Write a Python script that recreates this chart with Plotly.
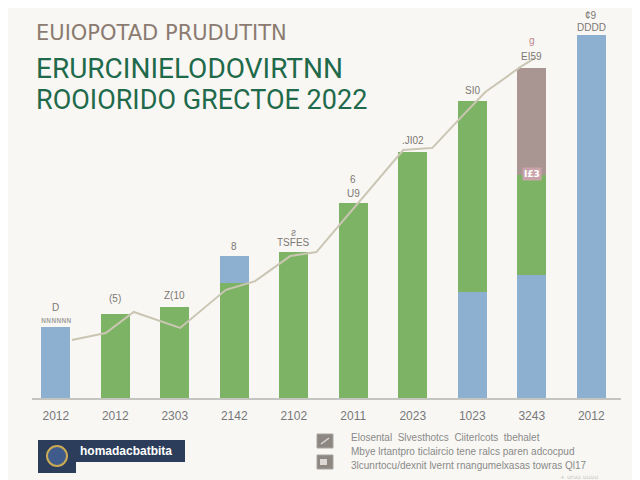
import plotly.graph_objects as go

# ---- data ----
categories = ["2012", "2012", "2303", "2142", "2102", "2011", "2023", "1023", "3243", "2012"]
blue_base = [19.6, 0, 0, 0, 0, 0, 0, 29.2, 33.9, 100]
green = [0, 23.1, 25.1, 31.7, 40.2, 53.7, 67.8, 52.6, 27.5, 0]
blue_top = [0, 0, 0, 7.4, 0, 0, 0, 0, 0, 0]
brown = [0, 0, 0, 0, 0, 0, 0, 0, 29.5, 0]

line_x = [0.27, 0.84, 1.31, 2.09, 2.86, 3.35, 3.94, 4.38, 5.84, 6.33, 6.85, 7.22, 7.81, 8.06]
line_y = [16.0, 17.9, 23.7, 19.3, 29.8, 32.2, 39.1, 40.2, 68.3, 68.9, 78.0, 84.3, 91.2, 93.7]

bar_labels = ["D", "(5)", "Z(10", "8", "TSFES", "U9", ".JI02", "SI0", "EI59", "DDDD"]
upper_labels = {4: "ƨ", 5: "6", 8: "g", 9: "¢9"}

title_lines = ["EUIOPOTAD PRUDUTITN", "ERURCINIELODOVIRTNN", "ROOIORIDO GRECTOE 2022"]
legend_lines = [
    "Elosental  Slvesthotcs  Ciiterlcots  tbehalet",
    "Mbye lrtantpro ticlaircio tene ralcs paren adcocpud",
    "3lcunrtocu/dexnit lvernt rnangumelxasas towras Ql17",
]
badge_text = "homadacbatbita"

BLUE = "#8dafd0"
GREEN = "#7db365"
BROWN = "#a99591"
BG = "#f8f7f4"

# page body has an 8px margin: size the figure so it fits the window
OFF = 8
W, H = 640 - OFF, 480 - OFF
L, R, T, B = 24, 19, 27, 82

x = list(range(len(categories)))
fig = go.Figure()
for vals, col in [(blue_base, BLUE), (green, GREEN), (blue_top, BLUE), (brown, BROWN)]:
    fig.add_trace(go.Bar(x=x, y=vals, marker=dict(color=col, line=dict(width=0)),
                         width=0.49, showlegend=False, hoverinfo="skip"))

fig.add_trace(go.Scatter(x=line_x, y=line_y, mode="lines",
                         line=dict(color="#cbc6b3", width=2), showlegend=False, hoverinfo="skip"))

totals = [a + b + c + d for a, b, c, d in zip(blue_base, green, blue_top, brown)]
shifts = [19, 16, 11, 10, 10, 10, 11, 11, 12, 8]


def px(xp):
    return (xp - OFF - L) / (W - L - R)


def py(yp):
    return (H - B - (yp - OFF)) / (H - T - B)


ann = []
for i, (t, tot, s) in enumerate(zip(bar_labels, totals, shifts)):
    ann.append(dict(x=i, y=tot, text=t, showarrow=False, yshift=s, yanchor="middle",
                    font=dict(family="Liberation Sans, DejaVu Sans", size=10, color="#7d7873")))
for i, t in upper_labels.items():
    extra = {4: 20, 5: 24, 8: 28, 9: 20}[i]
    col = "#c0868a" if i == 8 else "#7d7873"
    ann.append(dict(x=i, y=totals[i], text=t, showarrow=False, yshift=extra, yanchor="middle",
                    font=dict(family="Liberation Sans, DejaVu Sans", size=10, color=col)))
ann.append(dict(x=0, y=totals[0], text="ɴɴɴɴɴɴ", showarrow=False, yshift=6,
                font=dict(family="DejaVu Sans", size=8, color="#9a9a96")))
ann.append(dict(x=8, y=blue_base[8] + green[8], text="<b>I£3</b>", showarrow=False, yshift=1,
                bgcolor="#c9a3aa", font=dict(family="DejaVu Sans", size=9, color="#ffffff")))

title_fmt = [(33, 21, "#8b7b70", "DejaVu Sans"), (68, 28, "#1f6a4b", "Roboto"),
             (100, 27, "#1f6a4b", "Roboto")]
for t, (yy, sz, col, fam) in zip(title_lines, title_fmt):
    ann.append(dict(xref="paper", yref="paper", x=px(34), y=py(yy), text=t, showarrow=False,
                    xanchor="left", yanchor="middle",
                    font=dict(family=fam, size=sz, color=col)))

for t, yy in zip(legend_lines, [437, 451, 465]):
    ann.append(dict(xref="paper", yref="paper", x=px(349), y=py(yy), text=t, showarrow=False,
                    xanchor="left", yanchor="middle",
                    font=dict(family="Liberation Sans", size=10, color="#8a8a88")))

ann.append(dict(xref="paper", yref="paper", x=px(78), y=py(451), text="<b>" + badge_text + "</b>",
                showarrow=False, xanchor="left", yanchor="middle",
                font=dict(family="Liberation Sans", size=12, color="#ffffff")))
ann.append(dict(xref="paper", yref="paper", x=px(600), y=py(476), text="+ uruu uuuu",
                showarrow=False, xanchor="right", yanchor="middle",
                font=dict(family="DejaVu Sans", size=6, color="#c8c8c4")))

shapes = [
    dict(type="rect", xref="paper", yref="paper", x0=px(38), x1=px(185), y0=py(462), y1=py(440),
         fillcolor="#2b3d5b", line=dict(width=0), layer="above"),
    dict(type="rect", xref="paper", yref="paper", x0=px(38), x1=px(76), y0=py(473), y1=py(440),
         fillcolor="#2b3d5b", line=dict(width=0), layer="above"),
    dict(type="circle", xref="paper", yref="paper", x0=px(47), x1=px(67), y0=py(466), y1=py(446),
         fillcolor="#3f5b8c", line=dict(color="#c9aa55", width=2), layer="above"),
    dict(type="rect", xref="paper", yref="paper", x0=px(317), x1=px(333), y0=py(448), y1=py(434),
         fillcolor="#8d8782", line=dict(color="#a9a49f", width=1), layer="above"),
    dict(type="rect", xref="paper", yref="paper", x0=px(317), x1=px(333), y0=py(469), y1=py(455),
         fillcolor="#8d8782", line=dict(color="#a9a49f", width=1), layer="above"),
    dict(type="line", xref="paper", yref="paper", x0=px(321), x1=px(329), y0=py(444), y1=py(438),
         line=dict(color="#dcd8d4", width=1.5), layer="above"),
    dict(type="rect", xref="paper", yref="paper", x0=px(320), x1=px(327), y0=py(465), y1=py(459),
         fillcolor="#dcd8d4", line=dict(width=0), layer="above"),
]

fig.update_layout(
    width=W, height=H, margin=dict(l=L, r=R, t=T, b=B),
    paper_bgcolor=BG, plot_bgcolor=BG, barmode="stack", bargap=0.5,
    annotations=ann, shapes=shapes,
    xaxis=dict(range=[-0.4, 9.5], tickmode="array", tickvals=x, ticktext=categories,
               showgrid=False, zeroline=False, showline=True, linecolor="#c4c4c0", linewidth=1.5,
               ticks="", ticklabelstandoff=6,
               tickfont=dict(family="Liberation Sans, DejaVu Sans", size=12, color="#77777a")),
    yaxis=dict(range=[0, 100], visible=False, showgrid=False, zeroline=False),
)
fig.write_html("out.html")
